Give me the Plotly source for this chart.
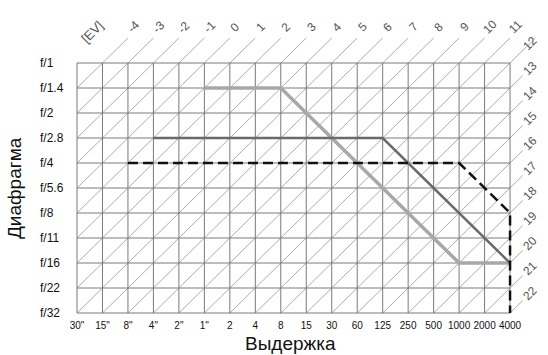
import plotly.graph_objects as go

# Shutter speeds (x) and apertures (y), one stop per step
shutter_labels = ['30"', '15"', '8"', '4"', '2"', '1"', '2', '4', '8', '15', '30',
                  '60', '125', '250', '500', '1000', '2000', '4000']
aperture_labels = ['f/1', 'f/1.4', 'f/2', 'f/2.8', 'f/4', 'f/5.6', 'f/8',
                   'f/11', 'f/16', 'f/22', 'f/32']
ev_values = list(range(-4, 23))

# Program lines, as (shutter, aperture) corner points
light_shutter = ['1"', '8', '1000', '4000']
light_aperture = ['f/1.4', 'f/1.4', 'f/16', 'f/16']
dark_shutter = ['4"', '125', '4000']
dark_aperture = ['f/2.8', 'f/2.8', 'f/16']
dash_shutter = ['8"', '1000', '4000', '4000']
dash_aperture = ['f/4', 'f/4', 'f/8', 'f/32']

FONT = "Liberation Sans Narrow, Arial Narrow, Liberation Sans, sans-serif"
TITLE_FONT = "Liberation Sans, Arial, sans-serif"
nx = len(shutter_labels) - 1
ny = len(aperture_labels) - 1


def sx(labels):
    return [shutter_labels.index(s) for s in labels]


def ay(labels):
    return [aperture_labels.index(a) for a in labels]


fig = go.Figure()

# diagonal EV lines, including their short run past the grid
dx, dy = [], []
for ev in ev_values:
    s = ev + 5  # i + j is constant along an EV line
    if s <= nx:
        start = (0, s) if s <= ny else (s - ny, ny)
        end = (s + 1, -1)
    else:
        start = (s - ny, ny)
        end = (nx + 0.5, s - nx - 0.5)
    dx += [start[0], end[0], None]
    dy += [start[1], end[1], None]
fig.add_trace(go.Scatter(x=dx, y=dy, mode="lines", hoverinfo="skip",
                         line=dict(color="#a3a3a3", width=0.9)))

# rectangular grid
gx, gy = [], []
for j in range(ny + 1):
    gx += [0, nx, None]
    gy += [j, j, None]
for i in range(nx + 1):
    gx += [i, i, None]
    gy += [0, ny, None]
fig.add_trace(go.Scatter(x=gx, y=gy, mode="lines", hoverinfo="skip",
                         line=dict(color="#7a7a7a", width=1)))

fig.add_trace(go.Scatter(x=sx(light_shutter), y=ay(light_aperture), mode="lines",
                         line=dict(color="#a8a8a8", width=3.5)))
fig.add_trace(go.Scatter(x=sx(dark_shutter), y=ay(dark_aperture), mode="lines",
                         line=dict(color="#6a6a6a", width=2.5)))
fig.add_trace(go.Scatter(x=sx(dash_shutter), y=ay(dash_aperture), mode="lines",
                         line=dict(color="#111111", width=2.5, dash="10px,5px")))

annotations = []
for ev in ev_values:
    s = ev + 5
    if s <= nx - 1:
        xa, ya = s + 1.2, -1.45
    else:
        xa, ya = nx + 0.8, s - nx - 0.8
    annotations.append(dict(x=xa, y=ya, text=str(ev), showarrow=False, textangle=-45,
                            font=dict(family=FONT, size=12, color="#555555")))
annotations.append(dict(x=0.62, y=-1.25, text="[EV]", showarrow=False, textangle=-45,
                        font=dict(family=FONT, size=13, color="#555555")))

# aperture labels are left-aligned in the original
for j, lab in enumerate(aperture_labels):
    annotations.append(dict(x=-0.067, y=j, xref="paper", yref="y", xanchor="left",
                            text=lab, showarrow=False,
                            font=dict(family=FONT, size=12, color="#111")))

annotations.append(dict(x=-0.117, y=5, xref="paper", yref="y", xanchor="center",
                        text="Диафрагма", showarrow=False, textangle=-90,
                        font=dict(family=TITLE_FONT, size=19, color="#111")))
annotations.append(dict(x=8.4, y=10.2, yref="y", xref="x", yanchor="top", yshift=-13,
                        text="Выдержка", showarrow=False,
                        font=dict(family=TITLE_FONT, size=19, color="#111")))

fig.update_layout(
    width=548, height=355,
    margin=dict(l=70, r=0, t=10, b=37),
    paper_bgcolor="white", plot_bgcolor="white",
    showlegend=False,
    annotations=annotations,
    xaxis=dict(range=[-0.275, 18.49], tickvals=list(range(nx + 1)), ticktext=shutter_labels,
               showgrid=False, zeroline=False, showline=False, ticks="",
               tickangle=0, automargin=False,
               tickfont=dict(family=FONT, size=10, color="#111")),
    yaxis=dict(range=[10.2, -2.12], showticklabels=False,
               showgrid=False, zeroline=False, showline=False, ticks="",
               automargin=False),
)

# drop the browser's default body margin so the figure sits at the page corner
fig.write_html("out.html", config={"displayModeBar": False},
               post_script="document.body.style.margin='0';")
